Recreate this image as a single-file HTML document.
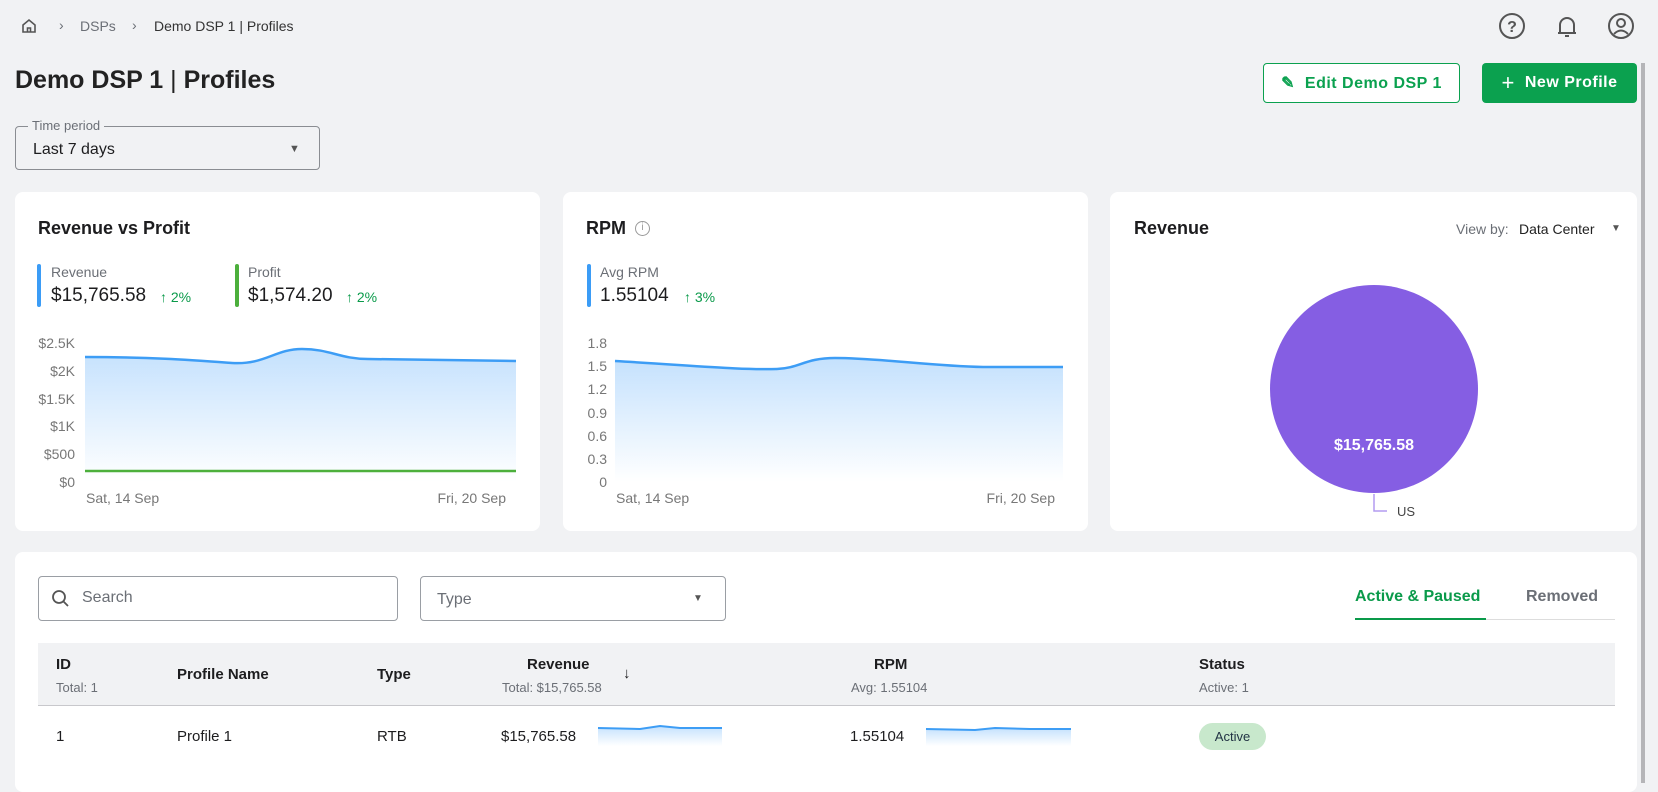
<!DOCTYPE html>
<html><head><meta charset="utf-8"><style>
*{box-sizing:border-box;margin:0;padding:0}
body{width:1658px;height:782px;background:#f1f2f4;font-family:"Liberation Sans",Arial,sans-serif;color:#1d1d1f;position:relative;overflow:hidden}
.a{position:absolute;white-space:nowrap}
.card{position:absolute;background:#fff;border-radius:8px}
.g{color:#6b6f76}
.btn{position:absolute;border-radius:4px;font-weight:bold;font-size:16px;display:flex;align-items:center;justify-content:center;letter-spacing:.5px}
.box{position:absolute;border:1px solid #9a9ea4;border-radius:4px;background:#fff}
</style></head><body>
<div class="card" style="left:15px;top:192px;width:525px;height:339px"></div>
<div class="card" style="left:563px;top:192px;width:525px;height:339px"></div>
<div class="card" style="left:1110px;top:192px;width:527px;height:339px"></div>
<div class="card" style="left:15px;top:552px;width:1622px;height:240px"></div>
<!-- breadcrumb -->
<svg class="a" style="left:20px;top:17px" width="18" height="18" viewBox="0 0 18 18"><path d="M3 8 L9 3 L15 8 V15 H3 Z M7.5 15 V11 H10.5 V15" fill="none" stroke="#555" stroke-width="1.6"/></svg>
<div class="a g" style="left:59px;top:17px;font-size:14px">›</div>
<div class="a g" style="left:80px;top:18px;font-size:14px">DSPs</div>
<div class="a g" style="left:132px;top:17px;font-size:14px">›</div>
<div class="a" style="left:154px;top:18px;font-size:14px;color:#333">Demo DSP 1 | Profiles</div>
<!-- top icons -->
<svg class="a" style="left:1497px;top:11px" width="30" height="30" viewBox="0 0 30 30"><circle cx="15" cy="15" r="12" fill="none" stroke="#555" stroke-width="2"/><text x="15" y="21" text-anchor="middle" font-size="16" font-weight="bold" fill="#555" font-family="Liberation Sans">?</text></svg>
<svg class="a" style="left:1552px;top:11px" width="30" height="30" viewBox="0 0 30 30"><path d="M8 22 V14 a7 7 0 0 1 14 0 V22 Z M6 22 H24 M13 25 H17" fill="none" stroke="#555" stroke-width="2"/></svg>
<svg class="a" style="left:1606px;top:11px" width="30" height="30" viewBox="0 0 30 30"><circle cx="15" cy="15" r="12" fill="none" stroke="#555" stroke-width="2"/><circle cx="15" cy="12" r="4" fill="none" stroke="#555" stroke-width="2"/><path d="M8 23 Q15 16 22 23" fill="none" stroke="#555" stroke-width="2"/></svg>
<!-- title -->
<div class="a" style="left:15px;top:66px;font-size:25px;font-weight:bold;color:#222">Demo DSP 1 <span style="font-weight:normal">|</span> Profiles</div>
<div class="btn" style="left:1263px;top:63px;width:197px;height:40px;border:1px solid #0ba14f;color:#0ba14f;background:#fff">✎&nbsp; Edit Demo DSP 1</div>
<div class="btn" style="left:1482px;top:63px;width:155px;height:40px;background:#0ba14f;color:#fff"><span style="font-size:22px;font-weight:normal;margin-right:10px">+</span>New Profile</div>
<div style="position:absolute;left:1641px;top:63px;width:4px;height:720px;background:#b5b5b8"></div>
<!-- time period -->
<div class="box" style="left:15px;top:126px;width:305px;height:44px;background:transparent;border-color:#8a8d92"></div>
<div class="a g" style="left:28px;top:118px;font-size:13px;background:#f1f2f4;padding:0 4px">Time period</div>
<div class="a" style="left:33px;top:141px;font-size:16px">Last 7 days</div>
<div class="a" style="left:289px;top:143px;font-size:11px;color:#555">▼</div>

<!-- card 1 -->
<div class="a" style="left:38px;top:218px;font-size:18px;font-weight:bold">Revenue vs Profit</div>
<div class="a" style="left:37px;top:264px;width:4px;height:43px;background:#3b9cf6;border-radius:2px"></div>
<div class="a g" style="left:51px;top:264px;font-size:14px">Revenue</div>
<div class="a" style="left:51px;top:285px;font-size:19px">$15,765.58</div>
<div class="a" style="left:160px;top:289px;font-size:14px;color:#0a9a4a">↑ 2%</div>
<div class="a" style="left:235px;top:264px;width:4px;height:43px;background:#4caf3c;border-radius:2px"></div>
<div class="a g" style="left:248px;top:264px;font-size:14px">Profit</div>
<div class="a" style="left:248px;top:285px;font-size:19px">$1,574.20</div>
<div class="a" style="left:346px;top:289px;font-size:14px;color:#0a9a4a">↑ 2%</div>
<svg class="a" style="left:0;top:0" width="1658" height="782">
<defs><linearGradient id="gb" x1="0" y1="0" x2="0" y2="1"><stop offset="0" stop-color="#c4e1fd"/><stop offset="1" stop-color="#fff"/></linearGradient></defs>
<path d="M85 357 C150 357 190 360 232 363 C265 365 275 349 302 349 C330 349 340 359 368 359 L516 361 L516 482 L85 482 Z" fill="url(#gb)"/>
<path d="M85 357 C150 357 190 360 232 363 C265 365 275 349 302 349 C330 349 340 359 368 359 L516 361" fill="none" stroke="#3d9df5" stroke-width="2.5"/>
<path d="M85 471 L516 471" stroke="#4caf3c" stroke-width="2.5"/>
<path d="M615 361 C700 366 740 370 777 369 C800 368 805 358 835 358 C880 358 930 366 983 367 L1063 367 L1063 482 L615 482 Z" fill="url(#gb)"/>
<path d="M615 361 C700 366 740 370 777 369 C800 368 805 358 835 358 C880 358 930 366 983 367 L1063 367" fill="none" stroke="#3d9df5" stroke-width="2.5"/>
<g font-family="Liberation Sans" font-size="14" fill="#777" text-anchor="end">
<text x="75" y="348">$2.5K</text><text x="75" y="376">$2K</text><text x="75" y="404">$1.5K</text><text x="75" y="431">$1K</text><text x="75" y="459">$500</text><text x="75" y="487">$0</text>
<text x="607" y="348">1.8</text><text x="607" y="371">1.5</text><text x="607" y="394">1.2</text><text x="607" y="418">0.9</text><text x="607" y="441">0.6</text><text x="607" y="464">0.3</text><text x="607" y="487">0</text>
</g>
<g font-family="Liberation Sans" font-size="14" fill="#777">
<text x="86" y="503">Sat, 14 Sep</text><text x="506" y="503" text-anchor="end">Fri, 20 Sep</text>
<text x="616" y="503">Sat, 14 Sep</text><text x="1055" y="503" text-anchor="end">Fri, 20 Sep</text>
</g>
<circle cx="1374" cy="389" r="104" fill="#855ee3"/>
<text x="1374" y="450" text-anchor="middle" font-family="Liberation Sans" font-size="16" font-weight="bold" fill="#fff">$15,765.58</text>
<path d="M1374 494 V511 H1387" fill="none" stroke="#b39cf0" stroke-width="1.5"/>
<text x="1397" y="516" font-family="Liberation Sans" font-size="13" fill="#444">US</text>
<path d="M598 728 L640 729 L660 726 L680 728 L722 728 L722 746 L598 746 Z" fill="url(#gb)"/>
<path d="M598 728 L640 729 L660 726 L680 728 L722 728" fill="none" stroke="#3d9df5" stroke-width="2"/>
<path d="M926 729 L975 730 L995 728 L1030 729 L1071 729 L1071 746 L926 746 Z" fill="url(#gb)"/>
<path d="M926 729 L975 730 L995 728 L1030 729 L1071 729" fill="none" stroke="#3d9df5" stroke-width="2"/>
</svg>

<!-- card 2 -->
<div class="a" style="left:586px;top:218px;font-size:18px;font-weight:bold">RPM</div>
<div class="a" style="left:635px;top:221px;width:15px;height:15px;border:1.5px solid #999;border-radius:50%;font-size:10px;color:#999;text-align:center;line-height:12px">i</div>
<div class="a" style="left:587px;top:264px;width:4px;height:43px;background:#3b9cf6;border-radius:2px"></div>
<div class="a g" style="left:600px;top:264px;font-size:14px">Avg RPM</div>
<div class="a" style="left:600px;top:285px;font-size:19px">1.55104</div>
<div class="a" style="left:684px;top:289px;font-size:14px;color:#0a9a4a">↑ 3%</div>

<!-- card 3 -->
<div class="a" style="left:1134px;top:218px;font-size:18px;font-weight:bold">Revenue</div>
<div class="a g" style="left:1456px;top:221px;font-size:14px">View by:</div>
<div class="a" style="left:1519px;top:221px;font-size:14px;color:#222">Data Center</div>
<div class="a" style="left:1611px;top:223px;font-size:10px;color:#555">▼</div>

<!-- table -->
<div class="box" style="left:38px;top:576px;width:360px;height:45px"></div>
<svg class="a" style="left:51px;top:589px" width="20" height="20" viewBox="0 0 20 20"><circle cx="8" cy="8" r="6" fill="none" stroke="#555" stroke-width="1.8"/><path d="M12.5 12.5 L17 17" stroke="#555" stroke-width="1.8"/></svg>
<div class="a g" style="left:82px;top:589px;font-size:16px">Search</div>
<div class="box" style="left:420px;top:576px;width:306px;height:45px"></div>
<div class="a g" style="left:437px;top:591px;font-size:16px">Type</div>
<div class="a" style="left:693px;top:593px;font-size:10px;color:#555">▼</div>
<div class="a" style="left:1355px;top:588px;font-size:16px;font-weight:bold;color:#0a9a4a">Active &amp; Paused</div>
<div class="a" style="left:1526px;top:588px;font-size:16px;font-weight:bold;color:#6b6f76">Removed</div>
<div class="a" style="left:1355px;top:619px;width:260px;height:1px;background:#ddd"></div>
<div class="a" style="left:1355px;top:618px;width:131px;height:2px;background:#0a9a4a"></div>
<div class="a" style="left:38px;top:643px;width:1577px;height:63px;background:#f1f2f4;border-bottom:1px solid #c8c8cc"></div>
<div class="a" style="left:56px;top:656px;font-size:15px;font-weight:bold">ID</div>
<div class="a g" style="left:56px;top:680px;font-size:13px">Total: 1</div>
<div class="a" style="left:177px;top:666px;font-size:15px;font-weight:bold">Profile Name</div>
<div class="a" style="left:377px;top:666px;font-size:15px;font-weight:bold">Type</div>
<div class="a" style="left:527px;top:656px;font-size:15px;font-weight:bold">Revenue</div>
<div class="a g" style="left:502px;top:680px;font-size:13px">Total: $15,765.58</div>
<div class="a" style="left:623px;top:665px;font-size:15px;font-weight:bold">↓</div>
<div class="a" style="left:874px;top:656px;font-size:15px;font-weight:bold">RPM</div>
<div class="a g" style="left:851px;top:680px;font-size:13px">Avg: 1.55104</div>
<div class="a" style="left:1199px;top:656px;font-size:15px;font-weight:bold">Status</div>
<div class="a g" style="left:1199px;top:680px;font-size:13px">Active: 1</div>
<div class="a" style="left:56px;top:728px;font-size:15px">1</div>
<div class="a" style="left:177px;top:728px;font-size:15px">Profile 1</div>
<div class="a" style="left:377px;top:728px;font-size:15px">RTB</div>
<div class="a" style="left:501px;top:728px;font-size:15px">$15,765.58</div>
<div class="a" style="left:850px;top:728px;font-size:15px">1.55104</div>
<div class="a" style="left:1199px;top:723px;width:67px;height:27px;border-radius:14px;background:#c8e8cc;font-size:13px;text-align:center;line-height:27px;color:#234">Active</div>
</body></html>
